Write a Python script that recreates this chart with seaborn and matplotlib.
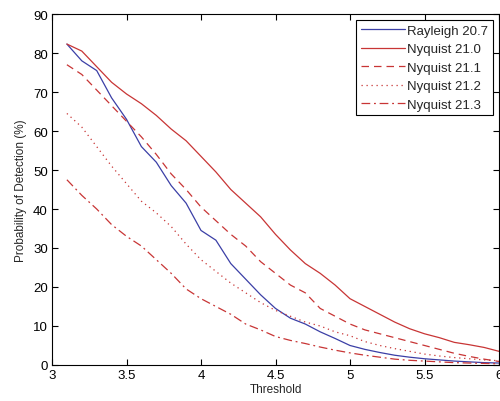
import numpy as np
import pandas as pd
import seaborn as sns
import matplotlib
matplotlib.use("Agg")
import matplotlib.pyplot as plt

threshold = [3.1, 3.2, 3.3, 3.4, 3.5, 3.6, 3.7, 3.8, 3.9, 4.0,
             4.1, 4.2, 4.3, 4.4, 4.5, 4.6, 4.7, 4.8, 4.9, 5.0,
             5.1, 5.2, 5.3, 5.4, 5.5, 5.6, 5.7, 5.8, 5.9, 6.0]

rayleigh_20_7 = [82.3, 78, 75.5, 68.5, 63, 56, 52, 46, 41.5, 34.5,
                 32, 26, 22, 18, 14.5, 12, 10.5, 8.5, 6.8, 5,
                 4, 3.2, 2.5, 2, 1.6, 1.3, 1, 0.8, 0.6, 0.5]
nyquist_21_0 = [82.3, 80.5, 76.5, 72.5, 69.5, 67, 64, 60.5, 57.5, 53.5,
                49.5, 45, 41.5, 38, 33.5, 29.5, 26, 23.5, 20.5, 17,
                15, 13, 11, 9.3, 8, 7, 5.8, 5.2, 4.5, 3.5]
nyquist_21_1 = [77, 74.5, 70.5, 66.5, 62.5, 58.5, 54, 49, 45, 40.5,
                37, 33.5, 30.5, 26.5, 23.5, 20.5, 18.5, 14.5, 12.5, 10.5,
                9, 8, 7, 6, 5, 4, 3, 2.2, 1.5, 0.9]
nyquist_21_2 = [64.5, 61, 56, 51, 46.5, 42, 39, 35.5, 31, 27,
                24, 21, 18.5, 16, 14, 12.5, 11, 10, 8.5, 7.5,
                6, 5, 4.2, 3.5, 2.8, 2.3, 1.9, 1.6, 1.3, 1.1]
nyquist_21_3 = [47.5, 43.5, 40, 36, 33, 30.5, 27, 23.5, 19.5, 17,
                15, 13, 10.5, 9, 7.3, 6.3, 5.5, 4.6, 3.8, 3.1,
                2.5, 2, 1.5, 1.2, 1, 0.8, 0.6, 0.5, 0.4, 0.3]

series_names = ["Rayleigh 20.7", "Nyquist 21.0", "Nyquist 21.1",
                "Nyquist 21.2", "Nyquist 21.3"]
series_values = [rayleigh_20_7, nyquist_21_0, nyquist_21_1,
                 nyquist_21_2, nyquist_21_3]
x_ticks = [3, 3.5, 4, 4.5, 5, 5.5, 6]
x_tick_labels = ["3", "3.5", "4", "4.5", "5", "5.5", "6"]
y_ticks = [0, 10, 20, 30, 40, 50, 60, 70, 80, 90]

sns.set_style("ticks")
plt.rcParams['font.family'] = ['Liberation Sans', 'DejaVu Sans']

blue = "#3b3fa6"
red = "#c83535"
styles = [
    (blue, "-"),
    (red, "-"),
    (red, (0, (6, 4))),
    (red, (0, (1, 3))),
    (red, (0, (7, 3, 1.5, 3))),
]

fig = plt.figure(figsize=(5.0, 4.02), dpi=100)
ax = fig.add_axes([0.104, 0.0896, 0.894, 0.873])

for name, vals, (c, ls) in zip(series_names, series_values, styles):
    df = pd.DataFrame({"Threshold": threshold, "P": vals})
    sns.lineplot(data=df, x="Threshold", y="P", ax=ax, color=c,
                 linestyle=ls, linewidth=0.9, label=name)

ax.set_xlim(3, 6)
ax.set_ylim(0, 90)
ax.set_xticks(x_ticks)
ax.set_xticklabels(x_tick_labels)
ax.set_yticks(y_ticks)
ax.tick_params(direction="in", top=True, right=True, length=4,
               width=0.8, labelsize=9.5, colors="black", pad=3)
for s in ax.spines.values():
    s.set_visible(True)
    s.set_color("black")
    s.set_linewidth(0.8)
ax.set_xlabel("Threshold", fontsize=8.5, labelpad=1)
ax.set_ylabel("Probability of Detection (%)", fontsize=8.5, labelpad=4)

leg = ax.legend(loc="upper right", fontsize=9.5, frameon=True, fancybox=False,
                edgecolor="black", framealpha=1, handlelength=3.4,
                handletextpad=0.15, borderpad=0.35, labelspacing=0.47,
                borderaxespad=0.45)
leg.get_frame().set_linewidth(0.8)

fig.savefig("out.png", dpi=100, facecolor="white")
